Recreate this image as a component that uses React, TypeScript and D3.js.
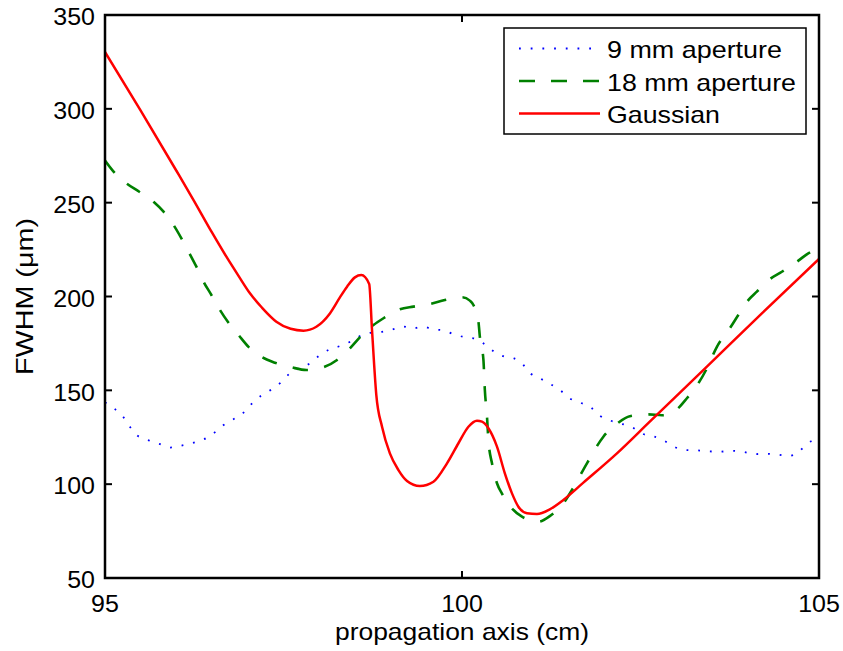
import React from "react";
import * as d3 from "d3";

const xTicks = [95, 100, 105];
const yTicks = [50, 100, 150, 200, 250, 300, 350];

const seriesNames = ["9 mm aperture", "18 mm aperture", "Gaussian"];

const ap9X = [95.0,95.14,95.26,95.35,95.45,95.6,95.76,95.91,96.06,96.23,96.39,96.53,96.66,96.8,96.94,97.05,97.18,97.32,97.46,97.58,97.72,97.87,98.0,98.15,98.29,98.46,98.6,98.74,98.88,99.03,99.18,99.31,99.45,99.59,99.73,99.88,100.04,100.19,100.32,100.45,100.59,100.73,100.86,100.96,101.09,101.22,101.37,101.51,101.66,101.81,101.93,102.07,102.21,102.39,102.52,102.68,102.83,102.97,103.12,103.29,103.45,103.61,103.78,103.94,104.09,104.24,104.41,104.57,104.71,104.83,105.0];
const ap9Y = [143.6,140,135.6,130.5,126,123.5,121.5,119.5,120.5,122,124,127.4,131.5,134.6,138.1,142.7,147,150.2,154.1,158.7,161.7,164.4,168.5,171.9,173.6,176.4,179.5,180.8,181.2,182.5,184,183,184,182.5,182,180,178.3,177.5,174.5,170.6,168,167,163.5,159,156.4,153.7,150.2,145.7,143.4,140.7,136.5,134,132.4,130.2,127,125.5,123.2,120,118.2,118,117.5,117.3,117.8,117.2,116,116.2,115.8,115,117,121.5,124.5];

const ap18X = [95.0,95.12,95.3,95.48,95.68,95.82,95.96,96.07,96.17,96.28,96.38,96.49,96.61,96.73,96.87,97.01,97.19,97.38,97.61,97.82,98.06,98.25,98.43,98.6,98.76,98.9,99.13,99.32,99.55,99.76,100.0,100.11,100.16,100.23,100.25,100.3,100.32,100.35,100.37,100.42,100.49,100.56,100.7,100.84,101.07,101.23,101.42,101.54,101.75,101.98,102.19,102.35,102.61,102.8,103.01,103.15,103.31,103.43,103.57,103.75,103.87,104.01,104.13,104.31,104.48,104.69,104.85,105.0];
const ap18Y = [272.4,266.5,260.3,255.8,250.5,245.2,238.1,231,223.9,215.9,207.9,200.8,192.8,186,179.5,173.2,167.9,164.7,162.3,160.8,162.3,166.2,172.4,179.5,184.8,188.4,193.2,194.6,196,198.1,199.6,197.8,195.5,186.6,178.6,166.2,150.2,136,123.5,111.1,100.5,95,87.1,82.7,80,83,89.8,96.9,111.1,125.3,132.8,136.2,137.2,136.7,139.9,145.8,153.7,161.7,173.2,183,190.1,198.1,202.6,209.2,213.2,218.5,223,225.5];

const gaussX = [95.0,95.5,96.0,96.24,96.5,96.7,96.87,97.03,97.2,97.4,97.6,97.78,97.96,98.15,98.29,98.39,98.5,98.59,98.7,98.74,98.8,98.88,98.99,99.11,99.23,99.41,99.6,99.79,99.95,100.09,100.21,100.28,100.37,100.49,100.6,100.7,100.79,100.91,101.05,101.23,101.42,101.7,102.17,102.63,103.43,104.2,105.0];
const gaussY = [330.3,299,267,251.4,234,221.2,211,201.7,194,186.6,182.8,181.8,183.9,191,199.5,205.2,210.2,211.4,206.7,182,147.5,130.6,116.4,107.5,101.7,99,101.3,111.1,121.8,130.6,133.8,133.3,129.8,120,105.8,95.1,88,84.5,84.1,86.6,91.6,100.8,116.4,133.3,162.6,191,220];

const W = 843, H = 651;
const L = 105, R = 819, T = 15, B = 578;

export default function App() {
  const x = d3.scaleLinear().domain([95, 105]).range([L, R]);
  const y = d3.scaleLinear().domain([50, 350]).range([B, T]);
  const line = d3.line<[number, number]>().x(d => x(d[0])).y(d => y(d[1])).curve(d3.curveMonotoneX);
  const zip = (a: number[], b: number[]) => a.map((v, i) => [v, b[i]] as [number, number]);

  const series = [
    { name: seriesNames[0], d: line(zip(ap9X, ap9Y)), color: "#0000ff", width: 1.8, dash: "1.8 9.9" },
    { name: seriesNames[1], d: line(zip(ap18X, ap18Y)), color: "#008000", width: 2.6, dash: "15.5 16.5" },
    { name: seriesNames[2], d: line(zip(gaussX, gaussY)), color: "#ff0000", width: 2.5, dash: "none" },
  ];

  const font = "'Liberation Sans', Arial, Helvetica, sans-serif";
  const legendW = [175, 189, 113];

  return (
    <svg width={W} height={H} style={{ position: "absolute", left: 0, top: 0, background: "#fff" }} fontFamily={font}>
      <rect x={0} y={0} width={W} height={H} fill="#fff" />
      <defs>
        <clipPath id="plot">
          <rect x={L} y={T} width={R - L} height={B - T} />
        </clipPath>
      </defs>
      <g clipPath="url(#plot)">
        {series.map(s => (
          <path key={s.name} d={s.d || ""} fill="none" stroke={s.color} strokeWidth={s.width}
            strokeDasharray={s.dash} strokeLinejoin="round" />
        ))}
      </g>
      {yTicks.map(t => (
        <g key={"y" + t}>
          <line x1={L} x2={L + 7} y1={y(t)} y2={y(t)} stroke="#000" strokeWidth={2} />
          <line x1={R} x2={R - 7} y1={y(t)} y2={y(t)} stroke="#000" strokeWidth={2} />
          <text x={95} y={y(t) + 10.3} textAnchor="end" fontSize={24}
            textLength={String(t).length * 13.9} lengthAdjust="spacingAndGlyphs">{t}</text>
        </g>
      ))}
      {xTicks.map(t => (
        <g key={"x" + t}>
          <line x1={x(t)} x2={x(t)} y1={B} y2={B - 7} stroke="#000" strokeWidth={2} />
          <line x1={x(t)} x2={x(t)} y1={T} y2={T + 7} stroke="#000" strokeWidth={2} />
          <text x={x(t)} y={612} textAnchor="middle" fontSize={24}
            textLength={String(t).length * 13.9} lengthAdjust="spacingAndGlyphs">{t}</text>
        </g>
      ))}
      <rect x={L} y={T} width={R - L} height={B - T} fill="none" stroke="#000" strokeWidth={2.5} />
      <text x={(L + R) / 2} y={640} textAnchor="middle" fontSize={24} textLength={254} lengthAdjust="spacingAndGlyphs">
        propagation axis (cm)
      </text>
      <text transform={`translate(33, ${(T + B) / 2}) rotate(-90)`} textAnchor="middle" fontSize={24}
        textLength={157} lengthAdjust="spacingAndGlyphs">
        FWHM (μm)
      </text>
      <rect x={504} y={28} width={302} height={106} fill="#fff" stroke="#000" strokeWidth={1.5} />
      {series.map((s, i) => {
        const cy = 48.5 + i * 32.5;
        return (
          <g key={"lg" + s.name}>
            <line x1={519} x2={600} y1={cy} y2={cy} stroke={s.color} strokeWidth={s.width}
              strokeDasharray={i === 0 ? "1.8 9.9" : i === 1 ? "16 16" : "none"} />
            <text x={607} y={cy + 9.5} fontSize={24} textLength={legendW[i]} lengthAdjust="spacingAndGlyphs">{s.name}</text>
          </g>
        );
      })}
    </svg>
  );
}
